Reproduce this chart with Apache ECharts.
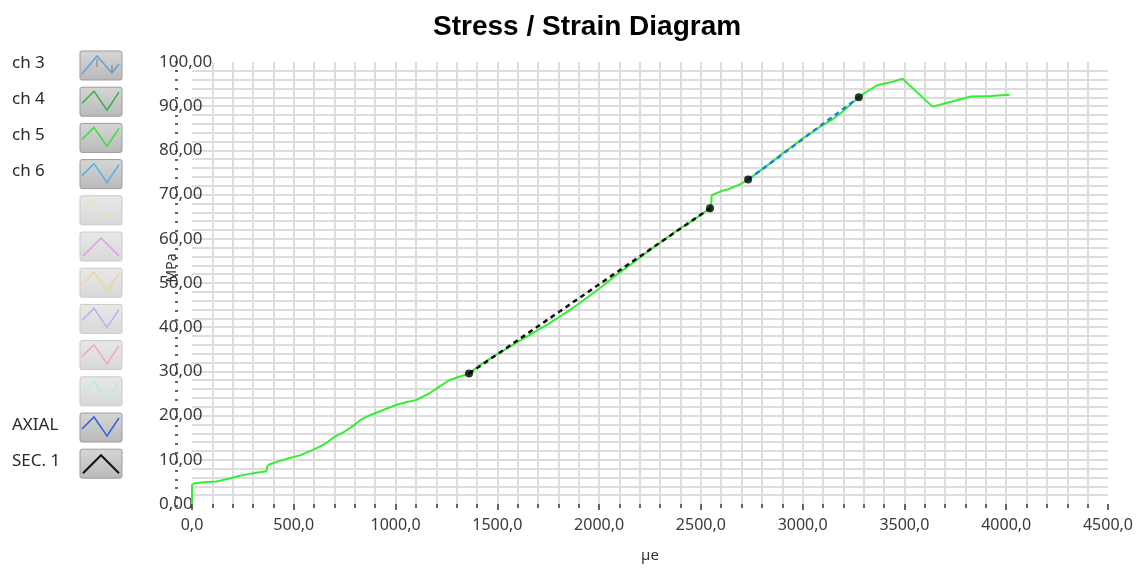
<!DOCTYPE html>
<html>
<head>
<meta charset="utf-8">
<title>Stress / Strain Diagram</title>
<script src="https://cdn.jsdelivr.net/npm/echarts@6/dist/echarts.min.js"></script>
<style>
  html, body { margin: 0; padding: 0; background: #fff; }
  #chart { width: 1136px; height: 568px; }
</style>
</head>
<body>
<div id="chart"></div>
<script>
// ch 5 trace: strain (µe) and stress (MPa)
const ch5Strain = [0, 0, 15, 60, 121, 180, 219, 270, 308, 366, 368, 382, 430, 480, 530, 578, 620, 660, 700, 750,
  790, 830, 880, 937, 1002, 1050, 1100, 1165, 1214, 1263, 1320, 1361, 1420, 1500, 1560, 1600, 1650, 1700, 1750, 1800,
  1850, 1900, 1950, 2000, 2050, 2100, 2150, 2200, 2250, 2300, 2350, 2400, 2450, 2500, 2545, 2548, 2553, 2565, 2601, 2634,
  2692, 2732, 2800, 2850, 2900, 2950, 3000, 3050, 3100, 3150, 3200, 3250, 3276, 3302, 3340, 3369, 3434, 3491, 3638, 3730,
  3826, 3924, 4017];
const ch5Stress = [0, 4.3, 4.7, 4.9, 5.1, 5.7, 6.2, 6.7, 7.0, 7.4, 8.4, 9.0, 9.7, 10.4, 11.0, 11.9, 12.8, 13.8, 15.2, 16.4,
  17.6, 19.1, 20.2, 21.2, 22.4, 23.0, 23.5, 25.0, 26.5, 28.0, 28.9, 29.5, 31.6, 33.9, 35.5, 36.7, 38.0, 39.4, 40.7, 42.2,
  43.7, 45.3, 47.0, 48.7, 50.5, 52.3, 54.0, 55.7, 57.5, 59.1, 60.8, 62.4, 63.8, 65.4, 67.0, 66.0, 69.8, 70.1, 70.8, 71.2,
  72.3, 73.4, 75.7, 77.4, 79.3, 80.9, 82.7, 84.2, 85.8, 87.1, 88.9, 91.0, 92.0, 92.9, 94.0, 94.8, 95.4, 96.2, 89.9, 91.0,
  92.2, 92.3, 92.6];

// AXIAL fit segment
const axialStrain = [2732, 2900, 3050, 3276];
const axialStress = [73.4, 79.1, 84.3, 92.0];

// SEC. 1 secant segment
const secStrain = [1361, 2545];
const secStress = [29.5, 66.9];

// segment end points
const markStrain = [1361, 2545, 2732, 3276];
const markStress = [29.5, 66.9, 73.4, 92.0];

// axis ranges
const xMin = 0, xMax = 4500, xStep = 500;
const yMin = 0, yMax = 100, yStep = 10;

// channel buttons on the left
const legendLabels = ['ch 3', 'ch 4', 'ch 5', 'ch 6', '', '', '', '', '', '', 'AXIAL', 'SEC. 1'];
const legendColors = ['#5fa3e6', '#2fb43c', '#35e335', '#4fb2ea', '#e2e8b8', '#e39ae8', '#efd49c', '#b4b4ee',
  '#f0a8cc', '#b8ece2', '#2f62e0', '#111111'];
const legendActive = [true, true, true, true, false, false, false, false, false, false, true, true];
const legendShape = ['n3', 'n', 'n', 'n', 'n', 'caret', 'n', 'n', 'n', 'n', 'n', 'caret'];

function pairs(xs, ys) { return xs.map((x, i) => [x, ys[i]]); }

const chart = echarts.init(document.getElementById('chart'), null, { renderer: 'canvas' });

const labelFont = 'Noto Sans';
const gridColor = '#dcdcdc';
const tickColor = '#333';

// button column graphics
const graphics = [];
const rowTop = 51, rowStep = 36.2, btnX = 80, btnW = 42, btnH = 29;
legendLabels.forEach((name, i) => {
  const y = rowTop + i * rowStep;
  const active = legendActive[i];
  if (name) {
    graphics.push({
      type: 'text', left: 12, top: y + btnH / 2 - 11,
      style: { text: name, fill: '#2a2a2a', font: '17px "Noto Sans"' }
    });
  }
  graphics.push({
    type: 'rect', shape: { x: btnX, y: y, width: btnW, height: btnH, r: 2 },
    style: {
      fill: new echarts.graphic.LinearGradient(0, 0, 0, 1, active
        ? [{ offset: 0, color: '#d6d6d6' }, { offset: 1, color: '#b9b9b9' }]
        : [{ offset: 0, color: '#e8e8e8' }, { offset: 1, color: '#d8d8d8' }]),
      stroke: active ? '#9c9c9c' : '#cacaca', lineWidth: 1
    }
  });
  let pts;
  if (legendShape[i] === 'caret') {
    pts = [[3, 24], [21, 6], [39, 24]];
  } else if (legendShape[i] === 'n3') {
    pts = [[2, 23], [17, 5], [32, 22], [39, 13]];
  } else {
    pts = [[2, 16], [14, 4], [27, 23], [39, 5]];
  }
  graphics.push({
    type: 'polyline',
    shape: { points: pts.map(p => [btnX + p[0], y + p[1]]) },
    style: { stroke: legendColors[i], lineWidth: i === 11 ? 2 : 1.5, fill: null }
  });
  if (legendShape[i] === 'n3') {
    graphics.push({ type: 'line', shape: { x1: btnX + 17, y1: y + 8, x2: btnX + 17, y2: y + 16 }, style: { stroke: '#8a7a6a', lineWidth: 1 } });
    graphics.push({ type: 'line', shape: { x1: btnX + 32, y1: y + 14, x2: btnX + 32, y2: y + 21 }, style: { stroke: '#8a7a6a', lineWidth: 1 } });
  }
});

// vertical axis title
graphics.push({
  type: 'text', x: 172, y: 268, rotation: Math.PI / 2,
  style: { text: 'MPa', fill: '#333', font: '14px "Noto Sans"', align: 'center', verticalAlign: 'middle' }
});

const option = {
  animation: false,
  backgroundColor: '#ffffff',
  title: {
    text: 'Stress / Strain Diagram',
    left: 428, top: 8,
    textStyle: { fontFamily: 'Liberation Sans', fontSize: 28, fontWeight: 'bold', color: '#000' }
  },
  grid: [
    { left: 192, right: 25, top: 62, bottom: 62 },
    // narrow strip carrying the tick column left of the plot
    { left: 178, width: 1, top: 62, bottom: 62 }
  ],
  xAxis: [
    {
      type: 'value', gridIndex: 0, min: xMin, max: xMax, interval: xStep, offset: 3,
      name: 'µe', nameLocation: 'middle', nameGap: 41, nameMoveOverlap: false,
      nameTextStyle: { fontFamily: labelFont, fontSize: 15, color: '#333' },
      axisLine: { show: false },
      axisTick: { show: true, length: 6, lineStyle: { color: tickColor, width: 1.5 } },
      minorTick: { show: true, splitNumber: 5, length: 4, lineStyle: { color: tickColor, width: 1.5 } },
      splitLine: { show: true, showMinLine: false, showMaxLine: false, lineStyle: { color: gridColor, width: 2 } },
      minorSplitLine: { show: true, lineStyle: { color: gridColor, width: 2 } },
      axisLabel: {
        margin: 10, fontFamily: labelFont, fontSize: 16, color: '#3a3a3a',
        showMaxLabel: true,
        formatter: v => v.toFixed(1).replace('.', ',')
      }
    },
    {
      type: 'value', gridIndex: 1, min: 0, max: 1, show: false
    }
  ],
  yAxis: [
    {
      type: 'value', gridIndex: 0, min: yMin, max: yMax, interval: yStep,
      axisLine: { show: false },
      axisTick: { show: false },
      splitLine: { show: true, showMinLine: false, showMaxLine: false, lineStyle: { color: gridColor, width: 2 } },
      minorSplitLine: { show: true, lineStyle: { color: gridColor, width: 2 } },
      minorTick: { show: false, splitNumber: 5 },
      axisLabel: {
        margin: 33, align: 'left', fontFamily: labelFont, fontSize: 17, color: '#3a3a3a',
        formatter: v => v.toFixed(2).replace('.', ',')
      }
    },
    {
      type: 'value', gridIndex: 1, min: yMin, max: yMax, interval: yStep,
      axisLine: { show: false },
      axisTick: { show: true, length: 3, lineStyle: { color: tickColor, width: 1.5 } },
      minorTick: { show: true, splitNumber: 5, length: 3, lineStyle: { color: tickColor, width: 1.5 } },
      splitLine: { show: false },
      axisLabel: { show: false }
    }
  ],
  graphic: graphics,
  series: [
    {
      name: 'ch 5', type: 'line', data: pairs(ch5Strain, ch5Stress),
      showSymbol: false, symbol: 'none',
      lineStyle: { color: '#33ee33', width: 2 }, z: 2
    },
    {
      name: 'AXIAL', type: 'line', data: pairs(axialStrain, axialStress),
      showSymbol: false, symbol: 'none',
      lineStyle: { color: '#1f7fe0', width: 2.5, type: [5, 4] }, z: 3
    },
    {
      name: 'SEC. 1', type: 'line', data: pairs(secStrain, secStress),
      showSymbol: false, symbol: 'none',
      lineStyle: { color: '#111', width: 2.5, type: [5, 4] }, z: 4
    },
    {
      name: 'points', type: 'scatter', data: pairs(markStrain, markStress),
      symbol: 'circle', symbolSize: 8,
      itemStyle: { color: '#000' }, z: 5
    }
  ]
};

chart.setOption(option);
</script>
</body>
</html>
